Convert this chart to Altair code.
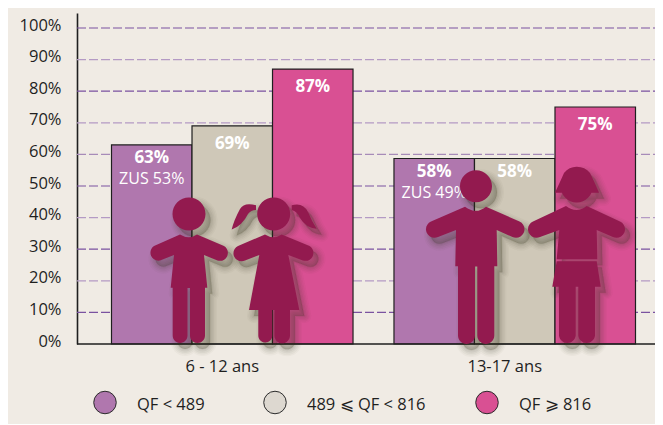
import altair as alt
import pandas as pd

ages = ["6 - 12 ans"] * 3 + ["13-17 ans"] * 3
classes = ["QF < 489", "489 ⩽ QF < 816", "QF ⩾ 816"] * 2
values = [63, 69, 87, 58.7, 58.7, 75]
labels = ["63%", "69%", "87%", "58%", "58%", "75%"]
zus = ["ZUS 53%", "", "", "ZUS 49%", "", ""]
close_to_top = [True, False, False, True, True, False]
age_order = ["6 - 12 ans", "13-17 ans"]
class_order = ["QF < 489", "489 ⩽ QF < 816", "QF ⩾ 816"]
bar_colors = ["#b077ae", "#cfc8b8", "#d95093"]
legend_colors = ["#b077ae", "#ddd8d0", "#d95093"]
ticks = list(range(0, 101, 10))
grid_values = [100, 90, 80, 70, 60, 50, 40, 30, 20, 10]
grid_colors = ["#7a52a0", "#b49ac4", "#7a52a0", "#b49ac4", "#a78bb8",
               "#7a52a0", "#b49ac4", "#7a52a0", "#b49ac4", "#7a52a0"]

FONT = "Open Sans"
BG = "#f0ebe4"
INK = "#1f1f1f"
FIGURE = "#931a4f"
W, H = 578, 331
OX, OY = 77, 13
TOTAL_H = 416

df = pd.DataFrame({"age": ages, "qf": classes, "v": values, "lab": labels, "zus": zus, "near": close_to_top})
grid_df = pd.DataFrame({"g": grid_values, "c": grid_colors})
zero_df = pd.DataFrame({"z": [0]})

y_scale = alt.Scale(domain=[0, 104.75], nice=False)
y_axis = alt.Axis(values=ticks, grid=False, ticks=False, labelExpr="datum.value + '%'",
                  labelFont=FONT, labelFontSize=16.5, labelColor=INK, labelPadding=16,
                  labelOffset=-3, domainColor=INK, domainWidth=1.6)

x_enc = alt.X("age:N", sort=age_order, title=None,
              scale=alt.Scale(range=[34.5, 558.5], paddingInner=0.145, paddingOuter=0),
              axis=alt.Axis(domain=False, ticks=False, labelAngle=0, labelFont=FONT, labelFontSize=16.5,
                            labelColor=INK, labelPadding=14, labelOffset=-10))
xo_enc = alt.XOffset("qf:N", sort=class_order)
y_enc = alt.Y("v:Q", title=None, scale=y_scale, axis=y_axis)

grid = alt.Chart(grid_df).mark_rule(strokeWidth=1.2, strokeDash=[9, 3]).encode(
    y=alt.Y("g:Q", title=None, scale=y_scale, axis=y_axis),
    x=alt.value(0), x2=alt.value(W), color=alt.Color("c:N", scale=None))

bars = alt.Chart(df).mark_bar(stroke=INK, strokeWidth=1.2).encode(
    x=x_enc, xOffset=xo_enc, y=y_enc,
    fill=alt.Fill("qf:N", sort=class_order, legend=None,
                  scale=alt.Scale(domain=class_order, range=bar_colors)))

baseline = alt.Chart(zero_df).mark_rule(stroke=INK, strokeWidth=1.6).encode(
    y=alt.Y("z:Q", title=None, scale=y_scale, axis=y_axis),
    x=alt.value(0), x2=alt.value(W))

value_near = alt.Chart(df).transform_filter("datum.near").mark_text(
    font=FONT, fontSize=17, fontWeight="bold", color="white", dy=13).encode(
    x=x_enc, xOffset=xo_enc, y=y_enc, text="lab:N")
value_far = alt.Chart(df).transform_filter("!datum.near").mark_text(
    font=FONT, fontSize=17, fontWeight="bold", color="white", dy=18).encode(
    x=x_enc, xOffset=xo_enc, y=y_enc, text="lab:N")
zus_text = alt.Chart(df).mark_text(font=FONT, fontSize=16, color="white", dy=34).encode(
    x=x_enc, xOffset=xo_enc, y=y_enc, text="zus:N")

# Decorative silhouettes: outlines written in page pixels, drawn at unit scale.
def head(cx, cy, r):
    return f"M{cx-r},{cy}A{r},{r} 0 1 1 {cx+r},{cy}A{r},{r} 0 1 1 {cx-r},{cy}Z"

BOY1 = head(189, 214, 16.5) + (
    "M180,234.5Q189,240 197,234.5L224,246A8,8 0 0 1 217.5,260.5L204,255L207.3,287.7L205,287.7"
    "L205,335.5A7.5,7.5 0 0 1 190,335.5L190,288L187.5,288L187.5,335.5A7.4,7.4 0 0 1 172.7,335.5"
    "L172.7,287.7L170.7,287.7L174,255L160,260.5A8,8 0 0 1 154,246Z")
GIRL1 = head(273.7, 214, 16.5) + (
    "M265,234.5Q273.7,240 281.7,234.5L309.5,246A8,8 0 0 1 303,260.5L288.3,255L299.3,310L290,310"
    "L290,335.5A7.8,7.8 0 0 1 274.4,335.5L274.4,310L272.3,310L272.3,335.5A7,7 0 0 1 258.3,335.5"
    "L258.3,310L249,310L259.3,255L245,260.5A8,8 0 0 1 238,246Z"
    "M256,205.3Q244,202 240,209Q234,220 231.7,229.5Q242,226 248,214Q251,210 256,210Z"
    "M291.7,205.3Q303,202 308,212Q312,222 316.7,228.7Q306,228 300,218Q297,211 291.7,210Z")
BOY2 = head(476, 186.3, 16) + (
    "M465,206.7Q476,215 486,206.7L519.5,221.5A8.5,8.5 0 0 1 512.5,237L496.7,230L497.3,266.3L494.3,266.3"
    "L494.3,335.5A8.5,8.5 0 0 1 477.3,335.5L477.3,266.5L475,266.5L475,335.5A8.5,8.5 0 0 1 458,335.5"
    "L458,266.3L455.3,266.3L456,230L438,237A8.5,8.5 0 0 1 431,221.5Z")
GIRL2 = head(576.7, 186.5, 16) + (
    "M555,192.7Q561,180 564,173Q569,166.7 576.7,166.7Q585,166.7 590,173Q594,181 599,192.7Z"
    "M566,206Q576.7,214 586.7,206L620,221.5A8.5,8.5 0 0 1 613,237L596.7,230L597.3,259.3L556.7,259.3L559.3,230"
    "L540,237A8.5,8.5 0 0 1 533,221.5Z"
    "M556.7,261.3L596.7,261.3L600.7,286.7L595,286.7L595,335.5A8.4,8.4 0 0 1 578.3,335.5L578.3,286.7"
    "L575.7,286.7L575.7,335.5A8.4,8.4 0 0 1 559,335.5L559,286.7L552.3,286.7Z")

one = pd.DataFrame({"k": [0]})

def silhouette(path, dx=0, dy=0, color=FIGURE, opacity=1.0, stroke=0):
    return alt.Chart(one).mark_point(shape=path, size=4, filled=True, fill=color, fillOpacity=opacity,
                                     stroke=color, strokeOpacity=opacity if stroke else 0,
                                     strokeWidth=stroke, strokeJoin="round").encode(
        x=alt.value(-OX + dx), y=alt.value(-OY + dy))

shadow_layers, figure_layers = [], []
for p in [BOY1, GIRL1, BOY2, GIRL2]:
    for sw, op in [(14, 0.03), (11, 0.04), (8, 0.05), (5, 0.06), (2, 0.07)]:
        shadow_layers.append(silhouette(p, 5, 6, "#35321f", op, sw))
    figure_layers.append(silhouette(p))

leg_x = [105, 275, 487]
leg_text_x = [137, 307, 519]
leg_y = TOTAL_H - 13.5
legend_marks = []
for lx, tx, c, t in zip(leg_x, leg_text_x, legend_colors, class_order):
    d = pd.DataFrame({"t": [t]})
    legend_marks.append(alt.Chart(d).mark_point(shape="circle", size=507, filled=True, fill=c, fillOpacity=1,
                                                stroke="#2b2b2b", strokeWidth=1, opacity=1).encode(
        x=alt.value(lx - OX), y=alt.value(leg_y - OY)))
    legend_marks.append(alt.Chart(d).mark_text(font=FONT, fontSize=16.5, color=INK, align="left").encode(
        x=alt.value(tx - OX), y=alt.value(leg_y + 2 - OY), text="t:N"))

chart = alt.layer(grid, bars, baseline, value_near, value_far, zus_text,
                  *shadow_layers, *figure_layers, *legend_marks).properties(
    width=W, height=H,
    background=BG,
    padding={"left": OX - 8, "top": OY - 8, "right": 0, "bottom": TOTAL_H - (OY - 8) - H},
    autosize=alt.AutoSizeParams(type="none"),
).resolve_scale(color="independent").configure_view(stroke=None)

chart.save("out.html", embed_options={"renderer": "svg", "actions": False})
